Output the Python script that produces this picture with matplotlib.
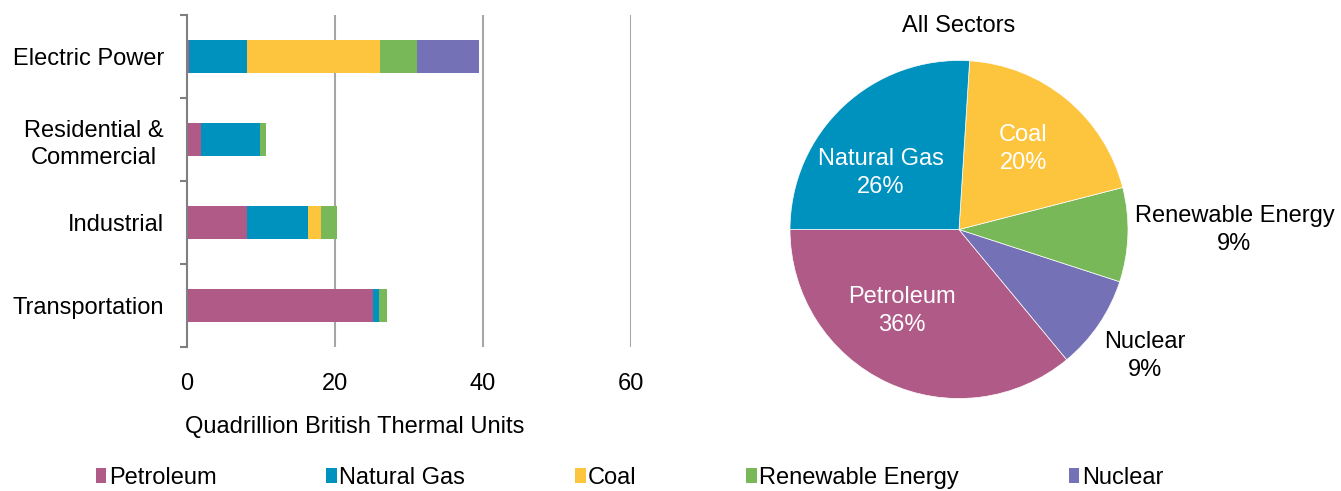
import numpy as np
import matplotlib
matplotlib.use('Agg')
import matplotlib.pyplot as plt
from matplotlib.patches import Patch

plt.rcParams['font.family'] = ['Liberation Sans', 'DejaVu Sans']
FS = 17
plt.rcParams['font.size'] = FS

# data
sectors = ['Electric Power', 'Residential &\nCommercial', 'Industrial', 'Transportation']
sources = ['Petroleum', 'Natural Gas', 'Coal', 'Renewable Energy', 'Nuclear']
petroleum = [0.3, 1.9, 8.15, 25.15]
natural_gas = [7.8, 8.0, 8.25, 0.77]
coal = [18.0, 0.0, 1.67, 0.0]
renewable = [5.0, 0.8, 2.25, 1.1]
nuclear = [8.4, 0.0, 0.0, 0.0]
x_ticks = [0, 20, 40, 60]

# pie: shares of all sectors (%)
pie_sources = ['Petroleum', 'Nuclear', 'Renewable Energy', 'Coal', 'Natural Gas']
pie_share = [36, 9, 9, 20, 26]

colors = {'Petroleum': '#b05a87', 'Natural Gas': '#0092bf', 'Coal': '#fdc53d',
          'Renewable Energy': '#79b859', 'Nuclear': '#7471b6'}

W, H = 1341, 491
fig = plt.figure(figsize=(W / 100, H / 100), dpi=100)

# ---- stacked bars ----
ax = fig.add_axes([187 / W, 1 - 347 / H, (631 - 187) / W, 332 / H])
y = np.arange(len(sectors))[::-1]
left = np.zeros(len(sectors))
for name, vals in zip(sources, [petroleum, natural_gas, coal, renewable, nuclear]):
    ax.barh(y, vals, left=left, height=0.4, color=colors[name], edgecolor='none')
    left += np.array(vals)

ax.set_xlim(0, 60)
ax.set_ylim(-0.5, len(sectors) - 0.5)
ax.set_xticks(x_ticks)
ax.tick_params(axis='x', length=0, pad=19, labelsize=FS)
for v in x_ticks[1:]:
    ax.axvline(v, color='#a6a6a6', lw=1.5, zorder=0)

ax.set_yticks(np.arange(-0.5, len(sectors), 1))
ax.set_yticklabels([])
ax.tick_params(axis='y', which='major', length=5, width=1.5, color='#7f7f7f', direction='out')
ax.set_yticks(y, minor=True)
ax.set_yticklabels(sectors, minor=True, ha='right', multialignment='center', linespacing=1.29)
ax.tick_params(axis='y', which='minor', length=0, pad=16.5, labelsize=FS)

for s in ['top', 'right', 'bottom']:
    ax.spines[s].set_visible(False)
ax.spines['left'].set_color('#7f7f7f')
ax.spines['left'].set_linewidth(1.5)

ax.set_xlabel('Quadrillion British Thermal Units', fontsize=FS)
ax.xaxis.set_label_coords((355 - 187) / (631 - 187), -80 / 332)
ax.xaxis.label.set_va('center')

# ---- pie ----
r = 169
size = r * 2 * 1.25
cx, cy = 959, 229.5
ax2 = fig.add_axes([(cx - size / 2) / W, (H - cy - size / 2) / H, size / W, size / H])
wedges, _ = ax2.pie(pie_share, colors=[colors[s] for s in pie_sources], startangle=180,
                    counterclock=True, wedgeprops=dict(edgecolor='white', linewidth=0.5))
ax2.set_aspect('equal')

# label radius (fraction of pie radius), angle shift, inside or not
label_pos = {'Petroleum': (0.59, -10, True), 'Nuclear': (1.33, 0, False),
             'Renewable Energy': (1.63, 1.7, False), 'Coal': (0.61, 1, True),
             'Natural Gas': (0.57, 11, True)}
for w, name, share in zip(wedges, pie_sources, pie_share):
    rr, shift, inside = label_pos[name]
    ang = np.deg2rad((w.theta1 + w.theta2) / 2 + shift)
    ax2.text(rr * np.cos(ang), rr * np.sin(ang), f'{name}\n{share}%', ha='center', va='center',
             fontsize=FS, color='white' if inside else 'black', linespacing=1.34)

ax2.text(0, 1 + 35 / r, 'All Sectors', ha='center', va='center', fontsize=FS)

# ---- legend ----
handles = [Patch(facecolor=colors[s], edgecolor='none') for s in sources]
fig.legend(handles, sources, loc='center', bbox_to_anchor=(629.5 / W, 1 - 478 / H), ncol=5,
           frameon=False, handlelength=0.45, handleheight=0.6, handletextpad=0.1,
           columnspacing=4.65, fontsize=FS)

fig.savefig('out.png', dpi=100)
